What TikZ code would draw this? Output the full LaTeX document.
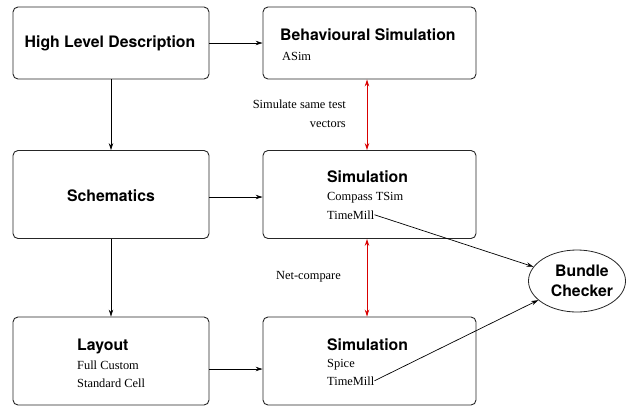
\documentclass[tikz,border=0pt]{standalone}
\usepackage{fontspec}
\setmainfont{Liberation Serif}
\newfontfamily\hv{TeX Gyre Heros}
\usetikzlibrary{arrows.meta,shapes.geometric}
\begin{document}
\begin{tikzpicture}[x=1pt,y=-1pt,
  box/.style={draw=black!85, line width=0.9pt, rounded corners=5pt, inner sep=0pt},
  lbox/.style={box, minimum width=196pt, minimum height=#1},
  rbox/.style={box, minimum width=213pt, minimum height=#1},
  ttl/.style={font=\hv\bfseries\fontsize{15.8}{18}\selectfont, inner sep=0pt},
  sub/.style={font=\fontsize{12.4}{14}\selectfont, inner sep=0pt},
  arr/.style={-{Stealth[length=7pt,width=4.5pt]}, line width=0.7pt},
  redarr/.style={{Stealth[length=7pt,width=4.5pt]}-{Stealth[length=7pt,width=4.5pt]}, line width=0.8pt, draw=red!85!black}]
\useasboundingbox (0,0) rectangle (642,408);
% boxes
\node[lbox=72pt] (hld) at (111,43) {};
\node[rbox=72pt] (beh) at (369.5,43) {};
\node[lbox=88pt] (sch) at (111,194.5) {};
\node[rbox=88pt] (sim1) at (369.5,194.5) {};
\node[lbox=88pt] (lay) at (111,361) {};
\node[rbox=88pt] (sim2) at (369.5,361) {};
\node[draw=black!85, line width=0.8pt, ellipse, minimum width=97pt, minimum height=62pt, inner sep=0pt] (bc) at (577,281) {};
% texts
\node[ttl] (thld) at (110,43) {High Level Description};
\node[ttl, anchor=base west] (tbeh) at (280,40.7) {Behavioural Simulation};
\node[sub, anchor=base west] (asim) at (282,60) {ASim};
\node[ttl] (tsch) at (111,196) {Schematics};
\node[ttl, anchor=base west] (tsim1) at (327,182.7) {Simulation};
\node[sub, anchor=base west] (cts) at (327,200) {Compass TSim};
\node[sub, anchor=base west] (tm1) at (327,219) {TimeMill};
\node[ttl, anchor=base west] (tlay) at (77,350.7) {Layout};
\node[sub, anchor=base west] (fc) at (77,369) {Full Custom};
\node[sub, anchor=base west] (sc) at (77,387) {Standard Cell};
\node[ttl, anchor=base west] (tsim2) at (327,350.7) {Simulation};
\node[sub, anchor=base west] (spice) at (327,367) {Spice};
\node[sub, anchor=base west] (tm2) at (327,385) {TimeMill};
\node[ttl, align=center] (tbc) at (582,281) {Bundle\\[2pt]Checker};
\node[sub, align=right, anchor=east] (lsim) at (346,114) {Simulate same test\\[5pt]vectors};
\node[sub] (lnet) at (308.5,277) {Net-compare};
% connectors
\coordinate (rx) at (367,0);
\draw[arr] (hld) -- (beh);
\draw[arr] (hld) -- (sch);
\draw[arr] (sch) -- (lay);
\draw[arr] ([yshift=-2.5pt]sch.east) -- ([yshift=-2.5pt]sim1.west);
\draw[arr] ([yshift=-8pt]lay.east) -- ([yshift=-8pt]sim2.west);
\draw[redarr] (beh.south -| rx) -- (sim1.north -| rx);
\draw[redarr] (sim1.south -| rx) -- (sim2.north -| rx);
\draw[arr] (tm1.east) -- (bc);
\draw[arr] (tm2.east) -- (bc);
\end{tikzpicture}
\end{document}
